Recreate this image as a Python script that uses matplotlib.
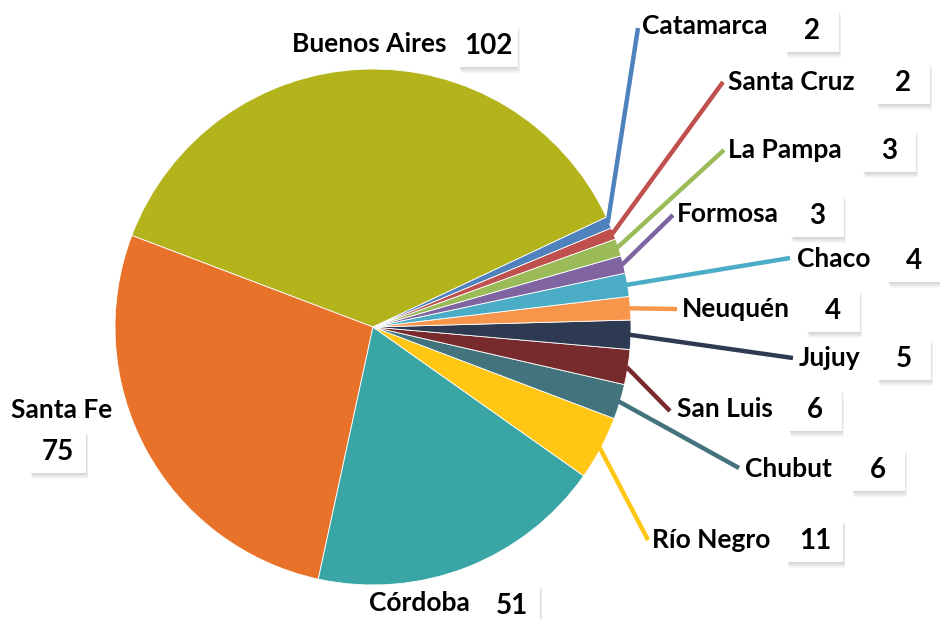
import numpy as np
import matplotlib.pyplot as plt
from matplotlib.patches import Rectangle, Polygon

provinces = ["Buenos Aires", "Santa Fe", "Córdoba", "Río Negro", "Chubut", "San Luis",
             "Jujuy", "Neuquén", "Chaco", "Formosa", "La Pampa", "Santa Cruz", "Catamarca"]
counts = [102, 75, 51, 11, 6, 6, 5, 4, 4, 3, 3, 2, 2]
colors = ["#B3B41C", "#E8722A", "#3AA5A5", "#FFC614", "#43737C", "#772B2C",
          "#2E3A52", "#F7964A", "#4BACC6", "#8064A2", "#9BBB59", "#C0504D", "#4F81BD"]

# label layout in pixels: line end, text x, text y, ha, box centre x, box centre y, pointer side
layout = {
    "Buenos Aires": (None, None, 447, 44, "right", 488, 45, "left"),
    "Santa Fe":     (None, None, 62, 410, "center", 58, 451, "top"),
    "Córdoba":      (None, None, 470, 603, "right", 512, 605, "left"),
    "Río Negro":    (648, 540, 652, 540, "left", 815, 540, "left"),
    "Chubut":       (739, 468, 745, 469, "left", 878, 469, "left"),
    "San Luis":     (670, 411, 677, 409, "left", 815, 409, "left"),
    "Jujuy":        (793, 358, 799, 358, "left", 904, 358, "left"),
    "Neuquén":      (677, 309, 682, 309, "left", 833, 310, "left"),
    "Chaco":        (790, 258, 797, 259, "left", 914, 260, "left"),
    "Formosa":      (673, 215, 677, 214, "left", 817, 215, "left"),
    "La Pampa":     (724, 150, 728, 150, "left", 889, 150, "left"),
    "Santa Cruz":   (723, 82, 728, 82, "left", 903, 82, "left"),
    "Catamarca":    (638, 28, 642, 26, "left", 812, 30, "left"),
}

W, H = 940, 619
cx, cy, r = 373, 327, 258
start = 25.2

fig = plt.figure(figsize=(W / 100, H / 100), dpi=100)
ax = fig.add_axes([(cx - r) / W, (H - cy - r) / H, 2 * r / W, 2 * r / H])
wedges, _ = ax.pie(counts, colors=colors, startangle=start, counterclock=True,
                   wedgeprops=dict(edgecolor="white", linewidth=0.6))
ax.set_xlim(-1, 1)
ax.set_ylim(-1, 1)

ov = fig.add_axes([0, 0, 1, 1], zorder=5)
ov.set_xlim(0, W)
ov.set_ylim(H, 0)
ov.axis("off")

font = "Lato"
fs = 19
for w, name, val, col in zip(wedges, provinces, counts, colors):
    lx, ly, tx, ty, ha, bx, by, side = layout[name]
    mid = np.deg2rad((w.theta1 + w.theta2) / 2)
    if lx is not None:
        sx = cx + r * 0.995 * np.cos(mid)
        sy = cy - r * 0.995 * np.sin(mid)
        ov.plot([sx, lx], [sy, ly], color=col, lw=3.2, solid_capstyle="butt")
    ov.text(tx, ty, name, ha=ha, va="center", fontsize=fs, fontweight="bold",
            family=font, color="black")
    bw = 50 + 3 * len(str(val))
    bh = 43
    x0, y0 = bx - bw / 2, by - bh / 2
    # soft shadow
    for k in range(6):
        off = 1 + k
        ov.add_patch(Rectangle((x0 + off * 0.4, y0 + off), bw, bh, facecolor="black",
                               edgecolor="none", alpha=0.028, zorder=1))
    ov.add_patch(Rectangle((x0, y0), bw, bh, facecolor="white", edgecolor="none", zorder=2))
    if side == "left":
        tri = [(x0 + 1, by - 5), (x0 - 6, by), (x0 + 1, by + 5)]
    else:
        tri = [(bx - 5, y0 + 1), (bx, y0 - 6), (bx + 5, y0 + 1)]
    ov.add_patch(Polygon(tri, closed=True, facecolor="white", edgecolor="none", zorder=2))
    ov.text(bx, by + 1, str(val), ha="center", va="center", fontsize=fs + 1,
            fontweight="bold", family=font, color="black", zorder=3)

fig.savefig("out.png", dpi=100, facecolor="white")
